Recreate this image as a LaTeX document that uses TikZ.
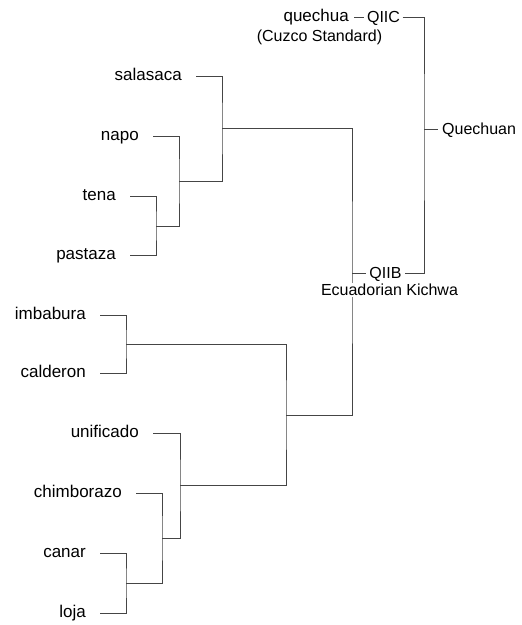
\documentclass[tikz,border=0pt]{standalone}
\usepackage{fontspec}
\setmainfont{Liberation Sans}
\usepackage{tikz}
\usetikzlibrary{calc,positioning}
\definecolor{edgegray}{HTML}{454545}

\begin{document}
\begin{tikzpicture}[x=1pt,y=-1pt,
	leaf/.style={anchor=east,inner xsep=14pt,inner ysep=0pt,text height=8.8pt,text depth=0pt,font=\fontsize{17}{20}\selectfont},
	group/.style={inner xsep=3pt,inner ysep=0pt,text height=11.5pt,text depth=0pt,font=\fontsize{16}{19}\selectfont},
	edge/.style={draw=edgegray,line width=1pt}]
\useasboundingbox (0,0) rectangle (522,625);
% leaves
\node[leaf] (salasaca) at (196,76) {salasaca};
\node[leaf] (napo) at (153,136) {napo};
\node[leaf] (tena) at (130,196) {tena};
\node[leaf] (pastaza) at (130,255) {pastaza};
\node[leaf] (imbabura) at (100,315) {imbabura};
\node[leaf] (calderon) at (100,373) {calderon};
\node[leaf] (unificado) at (153,433) {unificado};
\node[leaf] (chimborazo) at (136,493) {chimborazo};
\node[leaf] (canar) at (100,553) {canar};
\node[leaf] (loja) at (100,613) {loja};
\node[leaf,inner xsep=5pt] (quechua) at (354,17) {quechua};
\node[font=\fontsize{16}{19}\selectfont,inner sep=0pt] (cuzco) at (319.5,37) {(Cuzco Standard)};
% groups
\node[group,inner xsep=2.5pt] (qiic) at (383.5,17) {QIIC};
\node[group] (qiib) at (385.5,273) {QIIB};
\node[group,anchor=west,inner xsep=4pt] (quechuan) at (438,129) {Quechuan};
% joints
\coordinate (tp) at (156,226);
\coordinate (np) at (179,181);
\coordinate (sl) at (222,128);
\coordinate (ic) at (126,344);
\coordinate (cl) at (126,583);
\coordinate (ch) at (162,538);
\coordinate (un) at (180,485);
\coordinate (lo) at (286,415);
\coordinate (qb) at (352,273);
\coordinate (qn) at (424,129);

\draw[edge] (tena.east) -| (tp) |- (pastaza.east);
\draw[edge] (napo.east) -| (np) |- (tp);
\draw[edge] (salasaca.east) -| (sl) |- (np);
\draw[edge] (imbabura.east) -| (ic) |- (calderon.east);
\draw[edge] (canar.east) -| (cl) |- (loja.east);
\draw[edge] (chimborazo.east) -| (ch) |- (cl);
\draw[edge] (unificado.east) -| (un) |- (ch);
\draw[edge] (ic) -| (lo) |- (un);
\draw[edge] (sl) -| (qb) |- (lo);
\draw[edge] (qb) -- (qiib.west);
\draw[edge] (quechua.east) -- (qiic.west);
\draw[edge] (qiic.east) -| (qn) |- (qiib.east);
\draw[edge] (qn) -- (quechuan.west);

\node[group,fill=white,inner xsep=0pt,inner ysep=1.5pt] (ecuador) at (389.5,290) {Ecuadorian Kichwa};
\end{tikzpicture}
\end{document}
